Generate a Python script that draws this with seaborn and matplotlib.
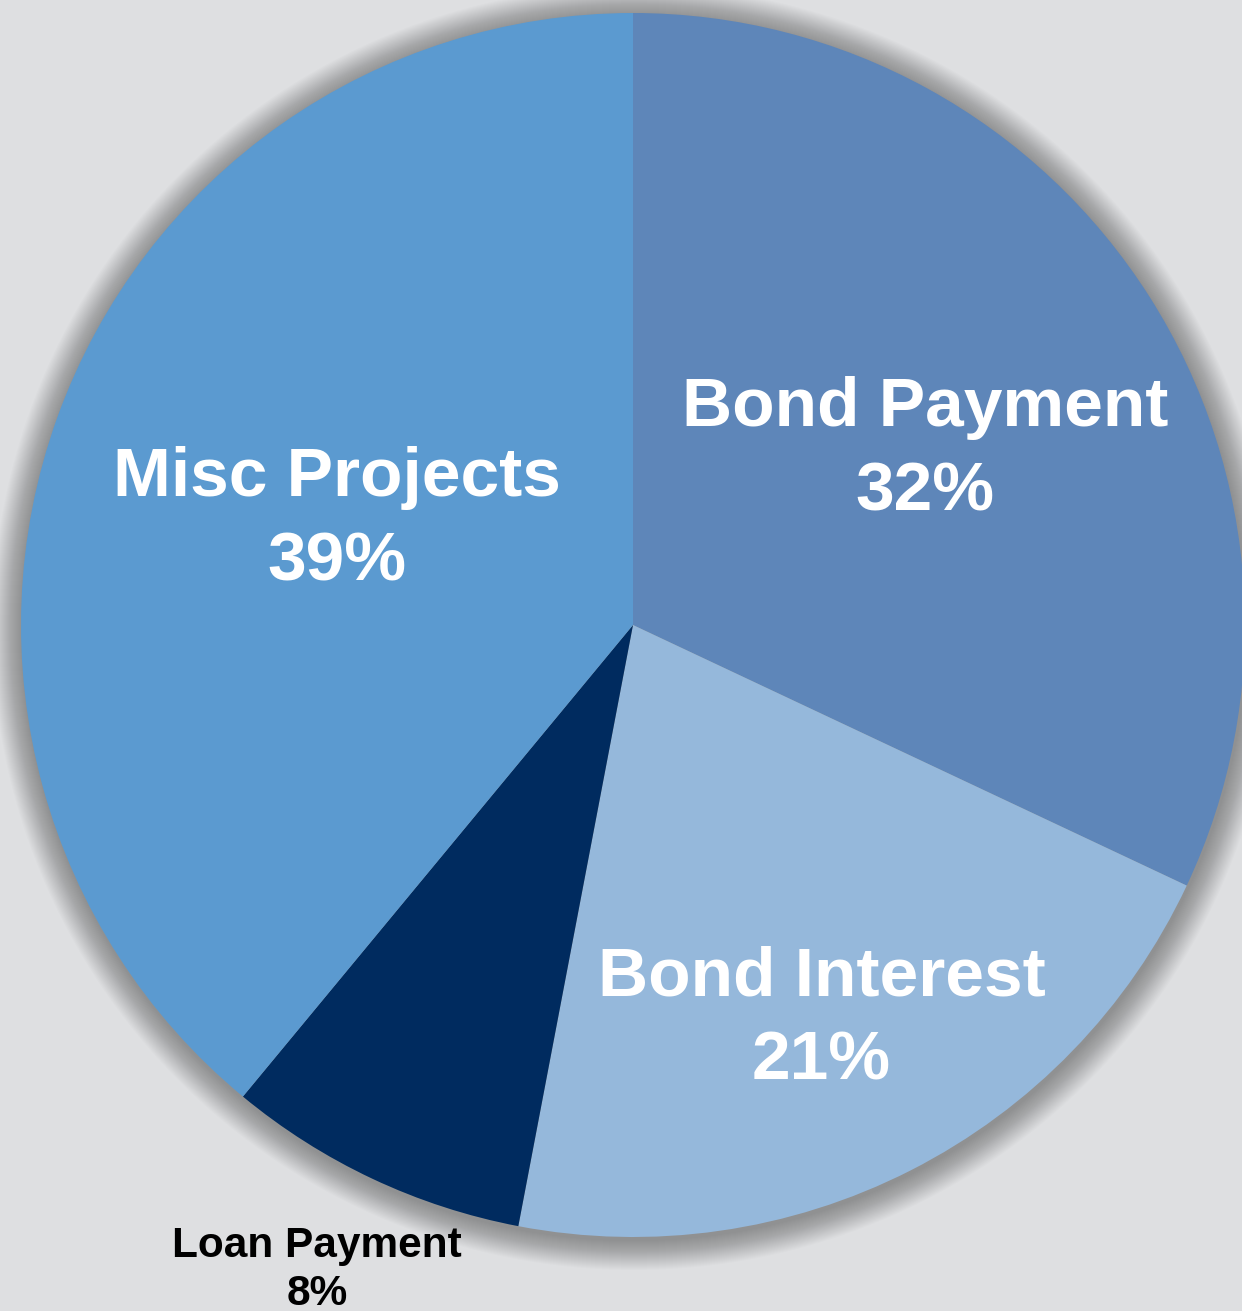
import numpy as np
import matplotlib
matplotlib.use("Agg")
import matplotlib.pyplot as plt
import seaborn as sns
from matplotlib.patches import Circle

# Budget allocation by category
categories = ["Bond Payment", "Bond Interest", "Loan Payment", "Misc Projects"]
shares = [32, 21, 8, 39]
colors = ["#5E86B9", "#95B8DB", "#002B5F", "#5B9AD0"]
label_colors = ["white", "white", "black", "white"]
label_sizes = [50, 50, 30.5, 50]
label_radius = [0.556, 0.715, 1.174, 0.513]
label_turn = [-1.5, -1.5, -0.9, 0.3]
label_spacing = [1.4, 1.4, 1.25, 1.4]

sns.set_theme(style="white")
plt.rcParams["font.family"] = ["Liberation Sans", "DejaVu Sans"]

W, H = 1242, 1311
fig = plt.figure(figsize=(W / 100, H / 100), dpi=100)
bg = "#DEDFE1"
fig.patch.set_facecolor(bg)
ax = fig.add_axes([0, 0, 1, 1])
ax.set_facecolor(bg)

cx, cy, R = 633, H - 625, 612

# soft drop shadow around the pie
for k in range(30, 0, -1):
    ax.add_patch(Circle((cx + 1, cy - 3), R + k, color="black", alpha=0.011,
                        lw=0, zorder=0))

wedges, _ = ax.pie(shares, colors=colors, startangle=90, counterclock=False,
                   radius=R, center=(cx, cy), frame=True,
                   wedgeprops=dict(linewidth=0))
ax.set_xlim(0, W)
ax.set_ylim(0, H)
ax.set_aspect("equal")
ax.axis("off")

for w, name, val, col, fs, rf, dt, ls in zip(wedges, categories, shares, label_colors,
                                             label_sizes, label_radius, label_turn,
                                             label_spacing):
    mid = np.deg2rad((w.theta1 + w.theta2) / 2 + dt)
    x = cx + rf * R * np.cos(mid)
    y = cy + rf * R * np.sin(mid)
    ax.text(x, y, f"{name}\n{val}%", ha="center", va="center", color=col,
            fontsize=fs, fontweight="bold", linespacing=ls, zorder=5)

fig.savefig("out.png", dpi=100, facecolor=bg)
